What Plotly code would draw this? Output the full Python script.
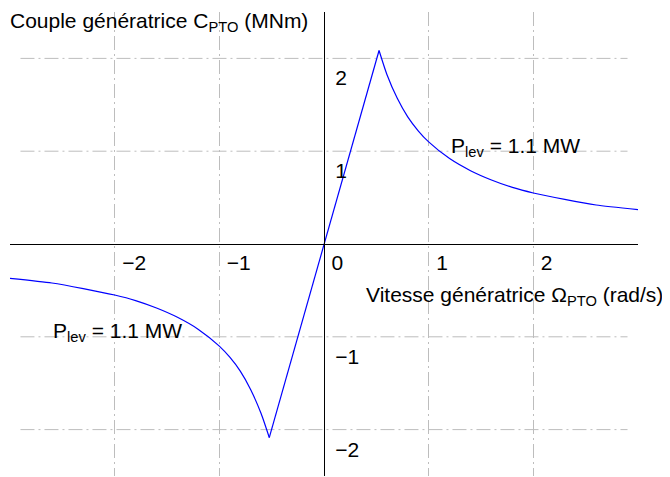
import plotly.graph_objects as go

# ---- data ----
lin_omega = [-0.523, 0.0, 0.526]
lin_couple = [-2.086, 0.0, 2.085]

right_omega = [0.526, 0.6, 0.7, 0.8, 0.9, 1.0, 1.2, 1.4, 1.6, 1.8, 2.0, 2.3, 2.6, 3.0]
right_couple = [2.085, 1.83, 1.57, 1.37, 1.22, 1.10, 0.92, 0.79, 0.69, 0.61, 0.55, 0.48, 0.42, 0.37]

left_omega = [-3.0, -2.6, -2.3, -2.0, -1.8, -1.6, -1.4, -1.2, -1.0, -0.9, -0.8, -0.7, -0.6, -0.523]
left_couple = [-0.37, -0.42, -0.48, -0.55, -0.61, -0.69, -0.79, -0.92, -1.10, -1.22, -1.37, -1.57, -1.83, -2.086]

x_ticks = [-2, -1, 0, 1, 2]
x_ticktext = ["\u22122", "\u22121", "0", "1", "2"]
y_ticks = [-2, -1, 1, 2]
y_ticktext = ["\u22122", "\u22121", "1", "2"]
h_grid = [-2, -1, 1, 2]

x_title = "Vitesse génératrice \u03a9<sub>PTO</sub> (rad/s)"
y_title = "Couple génératrice C<sub>PTO</sub> (MNm)"
plev_label = "P<sub>lev</sub> = 1.1 MW"

FONT = "Liberation Sans, Arial, Helvetica, sans-serif"
BLUE = "#0000ff"
GRID = "#bdbdbd"
DASH = "14px,4px,2px,4px"

fig = go.Figure()
line_style = dict(color=BLUE, width=1.2)
fig.add_trace(go.Scatter(x=left_omega, y=left_couple, mode="lines",
                         line=dict(shape="spline", smoothing=0.6, **line_style),
                         hoverinfo="skip", showlegend=False))
fig.add_trace(go.Scatter(x=lin_omega, y=lin_couple, mode="lines",
                         line=line_style, hoverinfo="skip", showlegend=False))
fig.add_trace(go.Scatter(x=right_omega, y=right_couple, mode="lines",
                         line=dict(shape="spline", smoothing=0.6, **line_style),
                         hoverinfo="skip", showlegend=False))

shapes = []
for g in h_grid:
    shapes.append(dict(type="line", xref="x", yref="y", x0=-2.9, x1=2.9, y0=g, y1=g,
                       line=dict(color=GRID, width=1, dash=DASH), layer="below"))

# the page body has an 8px default margin, so the figure is made 8px smaller
fig.update_layout(
    width=662, height=469,
    margin=dict(l=2, r=32, t=4, b=1, autoexpand=False),
    paper_bgcolor="white", plot_bgcolor="white",
    font=dict(family=FONT, size=21, color="black"),
    shapes=shapes,
    xaxis=dict(range=[-3, 3], anchor="free", position=0.5,
               showline=True, linecolor="black", linewidth=1,
               zeroline=False, showgrid=True, gridcolor=GRID, gridwidth=1, griddash=DASH,
               tickvals=x_ticks, ticktext=x_ticktext, ticks="",
               ticklabelposition="outside right", ticklabelstandoff=0, ticklabelshift=7,
               tickfont=dict(family=FONT, size=21, color="black"),
               fixedrange=True),
    yaxis=dict(range=[-2.5, 2.5], anchor="free", position=0.5, side="right",
               showline=True, linecolor="black", linewidth=1,
               zeroline=False, showgrid=False,
               tickvals=y_ticks, ticktext=y_ticktext, ticks="",
               ticklabelposition="outside bottom", ticklabelstandoff=6, ticklabelshift=5,
               tickfont=dict(family=FONT, size=21, color="black"),
               fixedrange=True),
    annotations=[
        dict(text=y_title, xref="paper", yref="paper", x=-0.0016, y=1.0086,
             xanchor="left", yanchor="top", showarrow=False, borderpad=0,
             font=dict(family=FONT, size=21, color="black")),
        dict(text=x_title, xref="paper", yref="paper", x=1.043, y=0.388,
             xanchor="right", yanchor="middle", showarrow=False,
             font=dict(family=FONT, size=21, color="black")),
        dict(text=plev_label, xref="paper", yref="paper", x=0.699, y=0.709,
             xanchor="left", yanchor="middle", showarrow=False,
             font=dict(family=FONT, size=21, color="black")),
        dict(text=plev_label, xref="paper", yref="paper", x=0.065, y=0.310,
             xanchor="left", yanchor="middle", showarrow=False,
             font=dict(family=FONT, size=21, color="black")),
    ],
)

fig.write_html("out.html")
